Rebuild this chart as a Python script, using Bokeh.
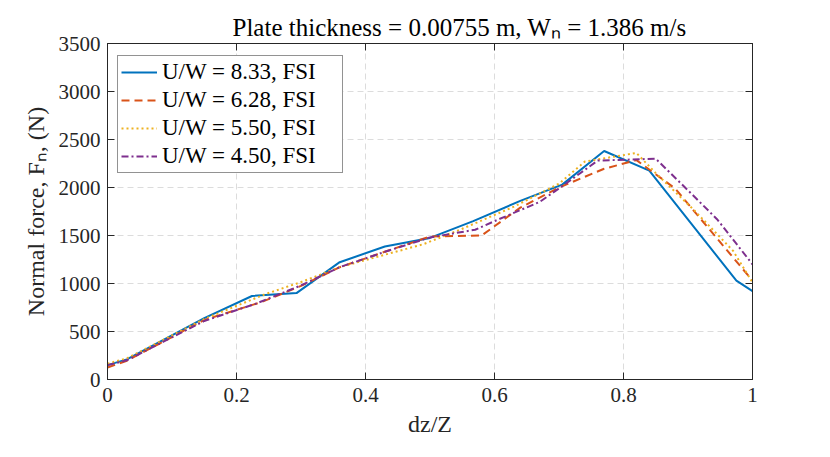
from bokeh.plotting import figure
from bokeh.models import Range1d, FixedTicker, LinearAxis, Legend, LegendItem
from bokeh.embed import file_html
from bokeh.resources import INLINE

# ---- data ----
x_833 = [0, 0.03, 0.15, 0.224, 0.293, 0.36, 0.43, 0.50, 0.567, 0.64, 0.705, 0.77, 0.84, 0.975, 1.0]
f_833 = [150, 210, 640, 870, 900, 1222, 1385, 1475, 1650, 1860, 2030, 2380, 2175, 1030, 920]

x_628 = [0, 0.03, 0.15, 0.24, 0.30, 0.36, 0.43, 0.50, 0.58, 0.64, 0.70, 0.77, 0.82, 0.88, 0.93, 1.0]
f_628 = [125, 195, 620, 810, 975, 1170, 1330, 1490, 1500, 1790, 2000, 2195, 2285, 1990, 1590, 1030]

x_550 = [0, 0.03, 0.15, 0.245, 0.30, 0.36, 0.43, 0.49, 0.55, 0.63, 0.70, 0.74, 0.82, 0.85, 0.91, 0.97, 1.0]
f_550 = [165, 220, 630, 890, 1015, 1170, 1300, 1410, 1570, 1800, 2040, 2270, 2360, 2150, 1760, 1340, 1010]

x_450 = [0, 0.03, 0.15, 0.23, 0.30, 0.36, 0.43, 0.50, 0.57, 0.60, 0.67, 0.70, 0.76, 0.85, 0.90, 0.945, 1.0]
f_450 = [150, 200, 610, 790, 980, 1170, 1330, 1480, 1560, 1650, 1850, 1990, 2280, 2300, 1970, 1670, 1200]

series_labels = ["U/W = 8.33, FSI", "U/W = 6.28, FSI", "U/W = 5.50, FSI", "U/W = 4.50, FSI"]
x_ticks = [0, 0.2, 0.4, 0.6, 0.8, 1]
x_tick_labels = ["0", "0.2", "0.4", "0.6", "0.8", "1"]
y_ticks = [0, 500, 1000, 1500, 2000, 2500, 3000, 3500]

title_text = "Plate thickness = 0.00755 m, W\u2099 = 1.386 m/s"
x_label = "dz/Z"
y_label = "Normal force, F\u2099, (N)"

# ---- styling ----
FONT = "Liberation Serif"
AX = "#262626"
colors = ["#0072BD", "#D95319", "#EDB120", "#7E2F8E"]
dashes = ["solid", "8 5", "2 3", "7 3 2 3"]

p = figure(width=820, height=448, output_backend="svg", toolbar_location=None,
           x_range=Range1d(0, 1), y_range=Range1d(0, 3500),
           min_border_left=107, min_border_right=68, min_border_top=43, min_border_bottom=69)
p.background_fill_color = "white"
p.border_fill_color = "white"
p.outline_line_color = AX
p.outline_line_width = 1

xt = FixedTicker(ticks=x_ticks)
yt = FixedTicker(ticks=y_ticks)
p.xaxis.ticker = xt
p.yaxis.ticker = yt
p.xaxis.major_label_overrides = dict(zip(x_ticks, x_tick_labels))

for ax in (p.xaxis[0], p.yaxis[0]):
    ax.axis_line_color = AX
    ax.major_tick_line_color = AX
    ax.major_tick_in = 7
    ax.major_tick_out = 0
    ax.minor_tick_line_color = None
    ax.major_label_text_font = FONT
    ax.major_label_text_font_size = "21px"
    ax.major_label_text_color = AX
    ax.axis_label_text_font = FONT
    ax.axis_label_text_font_style = "normal"
    ax.axis_label_text_color = AX
p.xaxis.axis_label = x_label
p.yaxis.axis_label = y_label
p.xaxis.axis_label_text_font_size = "24px"
p.yaxis.axis_label_text_font_size = "24px"
p.xaxis.major_label_standoff = 8
p.yaxis.major_label_standoff = 7
p.xaxis.axis_label_standoff = 6
p.yaxis.axis_label_standoff = 7

top = LinearAxis(ticker=xt, major_label_text_font_size="1px", major_label_text_color=None,
                 major_label_standoff=0,
                 axis_line_color=AX, major_tick_line_color=AX, major_tick_in=7,
                 major_tick_out=0, minor_tick_line_color=None)
right = LinearAxis(ticker=yt, major_label_text_font_size="1px", major_label_text_color=None,
                   major_label_standoff=0,
                   axis_line_color=AX, major_tick_line_color=AX, major_tick_in=7,
                   major_tick_out=0, minor_tick_line_color=None)
p.add_layout(top, "above")
p.add_layout(right, "right")

p.xgrid.ticker = xt
p.ygrid.ticker = yt
p.grid.grid_line_color = "#dcdcdc"
p.grid.grid_line_dash = "6 4"
p.grid.grid_line_width = 1

p.title.text = title_text
p.title.text_font = FONT
p.title.text_font_size = "25px"
p.title.text_font_style = "normal"
p.title.text_color = "black"
p.title.align = "left"
p.title.offset = 125
p.title.standoff = 5

xs = [x_833, x_628, x_550, x_450]
fs = [f_833, f_628, f_550, f_450]
items = []
for x, f, c, d, lab in zip(xs, fs, colors, dashes, series_labels):
    r = p.line(x, f, line_color=c, line_width=2, line_dash=d)
    items.append(LegendItem(label=lab, renderers=[r]))

legend = Legend(items=items, location=(10, 206))
legend.label_text_font = FONT
legend.label_text_font_size = "23px"
legend.label_text_color = "black"
legend.border_line_color = AX
legend.border_line_width = 1
legend.background_fill_alpha = 1
legend.padding = 3
legend.margin = 0
legend.spacing = 2
legend.glyph_width = 36
legend.glyph_height = 26
legend.label_height = 26
legend.label_standoff = 5
legend.label_width = 177
p.add_layout(legend)

open("out.html", "w").write(file_html(p, INLINE))
